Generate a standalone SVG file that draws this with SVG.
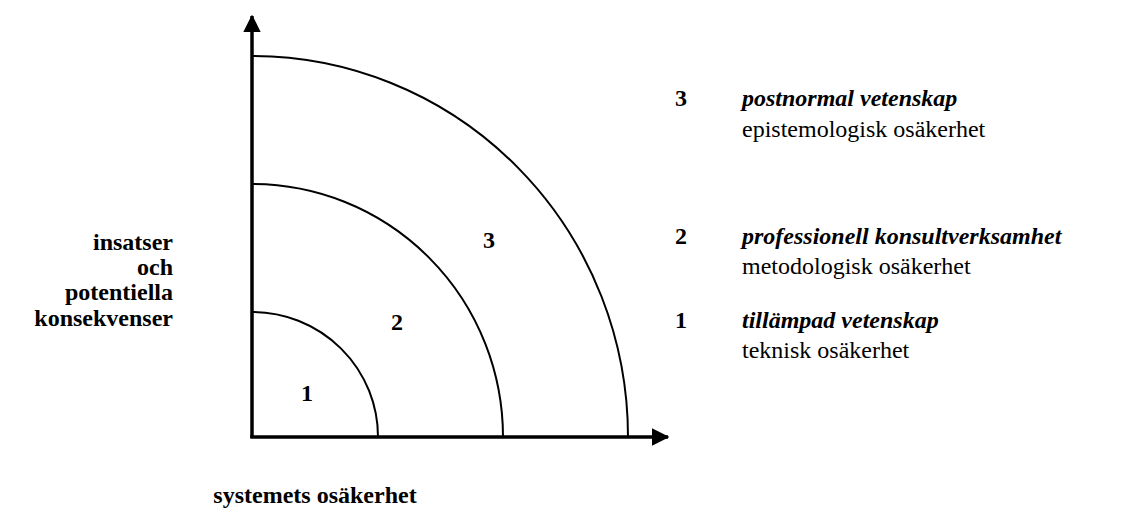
<svg xmlns="http://www.w3.org/2000/svg" width="1128" height="518" viewBox="0 0 1128 518">
<style>
text{font-family:'Liberation Serif','Times New Roman',serif;font-size:24px;fill:#000}
.b{font-weight:bold}
.i{font-style:italic;font-weight:bold}
.axis{stroke:#000;stroke-width:3.5;fill:none}
.arc{stroke:#000;stroke-width:2;fill:none}
</style>
<defs>
<marker id="ah" markerWidth="5" markerHeight="5" refX="4.6" refY="2.5" orient="auto" markerUnits="strokeWidth" viewBox="0 0 5 5">
<path d="M0,0 L5,2.5 L0,5 Z" fill="#000"/>
</marker>
</defs>
<g id="connectors">
<path class="axis" d="M252,438 L252,16" marker-end="url(#ah)"/>
<path class="axis" d="M250.3,437 L668,437" marker-end="url(#ah)"/>
</g>
<g id="arcs">
<path class="arc" d="M252,312 A126,125 0 0 1 378,437"/>
<path class="arc" d="M252,184 A251,253 0 0 1 503,437"/>
<path class="arc" d="M252,56 A376,381 0 0 1 628,437"/>
</g>
<g id="zone-labels">
<text class="b" x="307" y="401" text-anchor="middle">1</text>
<text class="b" x="397" y="330" text-anchor="middle">2</text>
<text class="b" x="489" y="248" text-anchor="middle">3</text>
</g>
<g id="y-label">
<text class="b" text-anchor="end" x="173" y="250">insatser</text>
<text class="b" text-anchor="end" x="173" y="275">och</text>
<text class="b" text-anchor="end" x="173" y="300">potentiella</text>
<text class="b" text-anchor="end" x="173" y="326">konsekvenser</text>
</g>
<g id="x-label">
<text class="b" x="315" y="503" text-anchor="middle">systemets osäkerhet</text>
</g>
<g id="legend-3">
<text class="b" x="675" y="106">3</text>
<text class="i" x="742" y="106">postnormal vetenskap</text>
<text x="742" y="137">epistemologisk osäkerhet</text>
</g>
<g id="legend-2">
<text class="b" x="675" y="244">2</text>
<text class="i" x="742" y="244">professionell konsultverksamhet</text>
<text x="742" y="274">metodologisk osäkerhet</text>
</g>
<g id="legend-1">
<text class="b" x="675" y="328">1</text>
<text class="i" x="742" y="328">tillämpad vetenskap</text>
<text x="742" y="358">teknisk osäkerhet</text>
</g>
</svg>
